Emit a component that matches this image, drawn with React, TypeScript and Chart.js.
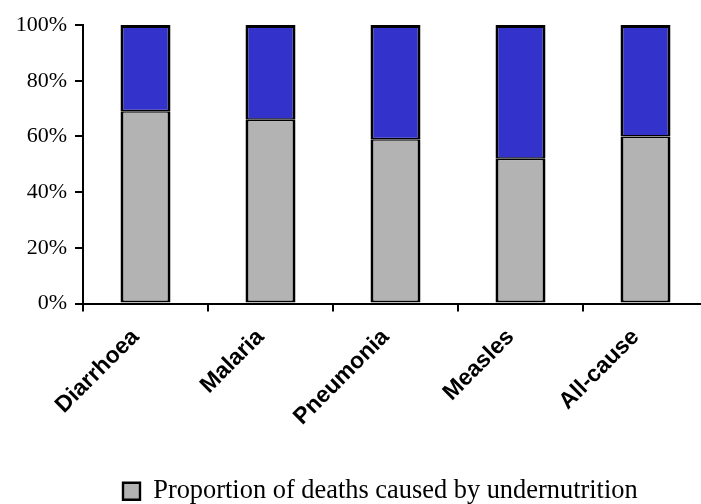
import React, { useEffect, useRef } from "react";
import { Chart, registerables } from "chart.js";

Chart.register(...registerables);

const categories = ["Diarrhoea", "Malaria", "Pneumonia", "Measles", "All-cause"];
const undernutritionShare = [69, 66, 59, 52, 60];
const otherShare = [31, 34, 41, 48, 40];
const yTickValues = [0, 20, 40, 60, 80, 100];
const legendLabel = "Proportion of deaths caused by undernutrition";
const otherLabel = "Proportion of deaths not caused by undernutrition";

const CANVAS_W = 712;
const CANVAS_H = 504;

const legendShift = {
  id: "legendShift",
  beforeDraw(chart: any) {
    const l = chart.legend;
    if (l) {
      const p = l.options.labels.padding;
      l.left = 123 - p;
      l.top = 478 - p;
    }
  },
};

export default function App() {
  const ref = useRef<HTMLCanvasElement | null>(null);
  useEffect(() => {
    if (!ref.current) return;
    const chart = new Chart(ref.current, {
      type: "bar",
      data: {
        labels: categories,
        datasets: [
          {
            label: legendLabel,
            data: undernutritionShare,
            backgroundColor: "#b3b3b3",
            borderColor: "#000000",
            borderWidth: { left: 3, right: 3, bottom: 2, top: 1.5 },
            borderSkipped: false,
            barPercentage: 0.8,
            categoryPercentage: 0.5,
          },
          {
            label: otherLabel,
            data: otherShare,
            backgroundColor: "#3333cc",
            borderColor: "#000000",
            borderWidth: { left: 3, right: 3, bottom: 1.5, top: 3 },
            borderSkipped: false,
            barPercentage: 0.8,
            categoryPercentage: 0.5,
          },
        ],
      },
      options: {
        responsive: false,
        animation: false,
        layout: { padding: { top: 25, right: 4, left: 0, bottom: 0 } },
        plugins: {
          tooltip: { enabled: false },
          legend: {
            position: "bottom",
            align: "start",
            labels: {
              filter: (item: any) => item.datasetIndex === 0,
              boxWidth: 17,
              boxHeight: 17,
              padding: 10,
              color: "#000",
              font: { family: "'Liberation Serif', 'Times New Roman', serif", size: 26.4 },
            },
          },
        },
        scales: {
          x: {
            stacked: true,
            offset: true,
            afterFit: (s: any) => {
              s.height = CANVAS_H - 305 - 45;
            },
            border: { display: true, color: "#000", width: 2 },
            grid: {
              offset: true,
              drawOnChartArea: false,
              drawTicks: true,
              tickLength: 8,
              color: "#000",
              lineWidth: 2,
            },
            ticks: {
              minRotation: 45,
              maxRotation: 45,
              autoSkip: false,
              labelOffset: -10,
              padding: 12,
              color: "#000",
              font: { family: "'Liberation Sans', Arial, sans-serif", size: 23, weight: "bold" },
            },
          },
          y: {
            stacked: true,
            min: 0,
            max: 100,
            afterFit: (s: any) => {
              s.width = 83;
            },
            afterBuildTicks: (s: any) => {
              s.ticks = yTickValues.map((v) => ({ value: v }));
            },
            border: { display: true, color: "#000", width: 2 },
            grid: {
              drawOnChartArea: false,
              drawTicks: true,
              tickLength: 8,
              color: "#000",
              lineWidth: 2,
            },
            ticks: {
              padding: 8,
              color: "#000",
              font: { family: "'Liberation Serif', 'Times New Roman', serif", size: 22 },
              callback: (v: any) => v + "%",
            },
          },
        },
      },
      plugins: [legendShift],
    });
    return () => chart.destroy();
  }, []);

  return (
    <div
      style={{
        position: "absolute",
        left: 0,
        top: 0,
        width: 701,
        height: 504,
        overflow: "hidden",
        background: "#fff",
      }}
    >
      <canvas
        ref={ref}
        width={CANVAS_W}
        height={CANVAS_H}
        style={{ display: "block", width: CANVAS_W, height: CANVAS_H }}
      />
    </div>
  );
}
